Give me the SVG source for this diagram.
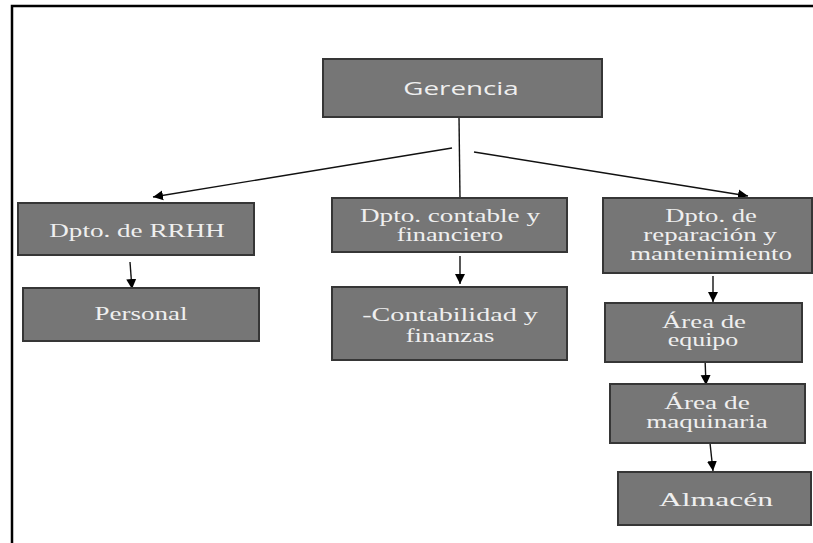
<svg xmlns="http://www.w3.org/2000/svg" width="813" height="543" viewBox="0 0 813 543">
  <style>
    .box { fill: #767676; stroke: #363636; stroke-width: 2; }
    .lbl { fill: #efefef; font-family: "Liberation Serif", "Times New Roman", serif; font-size: 18px; text-anchor: middle; }
    .sans { font-family: "Open Sans", "Liberation Sans", sans-serif; font-size: 18px; }
    .edge { stroke: #111; stroke-width: 1.4; fill: none; }
    .arrow { marker-end: url(#head); }
  </style>
  <defs>
    <marker id="head" viewBox="0 0 10 10" refX="10" refY="5" markerWidth="10" markerHeight="13" markerUnits="userSpaceOnUse" orient="auto">
      <path d="M0,0 L10,5 L0,10 z" fill="#000"/>
    </marker>
  </defs>

  <rect width="813" height="543" fill="#fff"/>
  <!-- page frame: left and top rules only -->
  <path d="M12,543 V6 H813" fill="none" stroke="#000" stroke-width="2.5"/>

  <g id="connectors">
    <line class="edge" x1="459" y1="117" x2="460" y2="199"/>
    <line class="edge arrow" x1="452" y1="148" x2="153" y2="197"/>
    <line class="edge arrow" x1="474" y1="152" x2="748" y2="196"/>
    <line class="edge arrow" x1="130" y1="262" x2="132" y2="289"/>
    <line class="edge arrow" x1="460" y1="256" x2="460" y2="284"/>
    <line class="edge arrow" x1="713" y1="276" x2="713" y2="302"/>
    <line class="edge arrow" x1="705" y1="358" x2="706" y2="385"/>
    <line class="edge arrow" x1="710" y1="443" x2="713" y2="471"/>
  </g>

  <!-- labels are set in a horizontally widened face: scale(1.5,1) -->
  <g id="gerencia">
    <rect class="box" x="323" y="59" width="279" height="58"/>
    <text class="lbl sans" transform="translate(461,95) scale(1.5,1)" textLength="77" lengthAdjust="spacingAndGlyphs">Gerencia</text>
  </g>

  <g id="rrhh">
    <rect class="box" x="18" y="203" width="236" height="52"/>
    <text class="lbl" transform="translate(137,237) scale(1.5,1)" textLength="117" lengthAdjust="spacingAndGlyphs">Dpto. de RRHH</text>
  </g>

  <g id="personal">
    <rect class="box" x="23" y="288" width="236" height="53"/>
    <text class="lbl" transform="translate(141,320) scale(1.5,1)" textLength="62" lengthAdjust="spacingAndGlyphs">Personal</text>
  </g>

  <g id="contable">
    <rect class="box" x="332" y="198" width="235" height="54"/>
    <text class="lbl" transform="translate(450,222) scale(1.5,1)" textLength="120" lengthAdjust="spacingAndGlyphs">Dpto. contable y</text>
    <text class="lbl" transform="translate(450,241) scale(1.5,1)" textLength="71" lengthAdjust="spacingAndGlyphs">financiero</text>
  </g>

  <g id="contabilidad">
    <rect class="box" x="332" y="287" width="235" height="73"/>
    <text class="lbl" transform="translate(450,321) scale(1.5,1)" textLength="117" lengthAdjust="spacingAndGlyphs">-Contabilidad  y</text>
    <text class="lbl" transform="translate(450,342) scale(1.5,1)" textLength="59" lengthAdjust="spacingAndGlyphs">finanzas</text>
  </g>

  <g id="reparacion">
    <rect class="box" x="603" y="198" width="209" height="75"/>
    <text class="lbl" font-size="17" transform="translate(711,222) scale(1.5,1)" textLength="61" lengthAdjust="spacingAndGlyphs">Dpto. de</text>
    <text class="lbl" font-size="17" transform="translate(710,241) scale(1.5,1)" textLength="89" lengthAdjust="spacingAndGlyphs">reparación y</text>
    <text class="lbl" font-size="17" transform="translate(711,260) scale(1.5,1)" textLength="108" lengthAdjust="spacingAndGlyphs">mantenimiento</text>
  </g>

  <g id="equipo">
    <rect class="box" x="605" y="303" width="197" height="59"/>
    <text class="lbl" font-size="17" transform="translate(704,328) scale(1.5,1)" textLength="56" lengthAdjust="spacingAndGlyphs">Área de</text>
    <text class="lbl" font-size="17" transform="translate(703,346) scale(1.5,1)" textLength="47" lengthAdjust="spacingAndGlyphs">equipo</text>
  </g>

  <g id="maquinaria">
    <rect class="box" x="610" y="384" width="195" height="59"/>
    <text class="lbl" font-size="17" transform="translate(707,409) scale(1.5,1)" textLength="57" lengthAdjust="spacingAndGlyphs">Área de</text>
    <text class="lbl" font-size="17" transform="translate(707,428) scale(1.5,1)" textLength="81" lengthAdjust="spacingAndGlyphs">maquinaria</text>
  </g>

  <g id="almacen">
    <rect class="box" x="618" y="472" width="193" height="53"/>
    <text class="lbl" font-size="20" transform="translate(716,506) scale(1.5,1)" textLength="76" lengthAdjust="spacingAndGlyphs">Almacén</text>
  </g>
</svg>
